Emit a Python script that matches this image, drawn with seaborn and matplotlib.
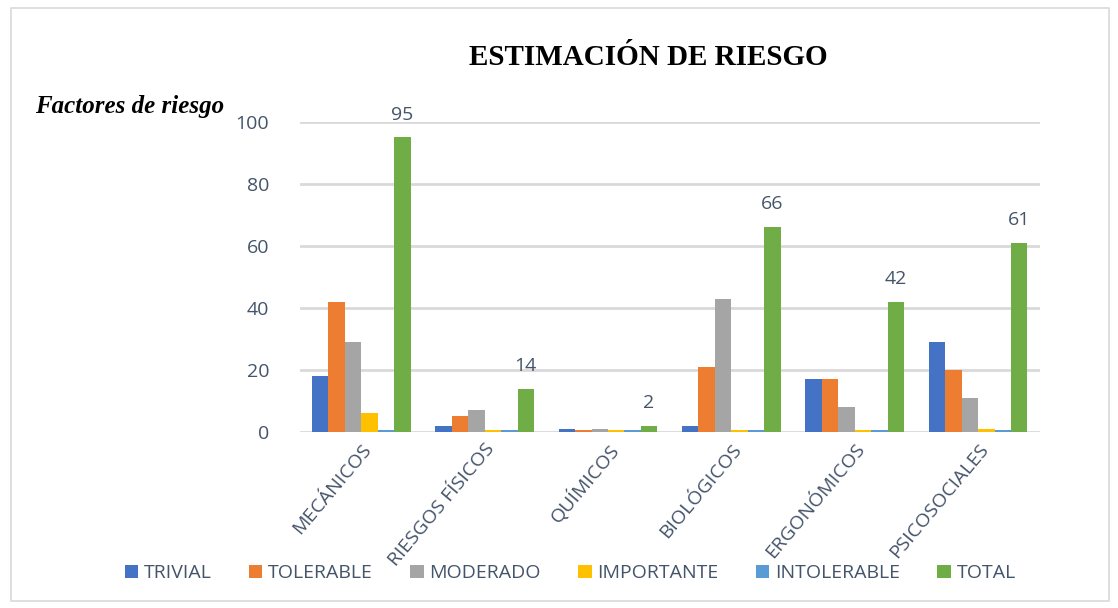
import matplotlib
matplotlib.use("Agg")
import matplotlib.pyplot as plt
import matplotlib.patches as mpatches
import seaborn as sns
import pandas as pd

categorias = ["MECÁNICOS", "RIESGOS FÍSICOS", "QUÍMICOS", "BIOLÓGICOS", "ERGONÓMICOS", "PSICOSOCIALES"]
series = ["TRIVIAL", "TOLERABLE", "MODERADO", "IMPORTANTE", "INTOLERABLE", "TOTAL"]
trivial = [18, 2, 1, 2, 17, 29]
tolerable = [42, 5, 0, 21, 17, 20]
moderado = [29, 7, 1, 43, 8, 11]
importante = [6, 0, 0, 0, 0, 1]
intolerable = [0, 0, 0, 0, 0, 0]
total = [95, 14, 2, 66, 42, 61]
colores = ["#4472C4", "#ED7D31", "#A5A5A5", "#FFC000", "#5B9BD5", "#70AD47"]

valores = [trivial, tolerable, moderado, importante, intolerable, total]
rows = []
for s, vals in zip(series, valores):
    for c, v in zip(categorias, vals):
        rows.append({"categoria": c, "serie": s, "valor": v})
df = pd.DataFrame(rows)

sns.set_theme(style="white")
plt.rcParams['font.family'] = ['Open Sans', 'DejaVu Sans']
txt = "#44546A"

fig = plt.figure(figsize=(11.18, 6.08), dpi=100)
ax = fig.add_axes([0.268, 0.2895, 0.662, 0.51])
sns.barplot(data=df, x="categoria", y="valor", hue="serie", hue_order=series,
            palette=colores, saturation=1, width=0.8, ax=ax, edgecolor="none", legend=True)

# zero bars drawn as thin slabs
for cont in ax.containers:
    for bar in cont:
        if bar.get_height() == 0:
            bar.set_height(0.6)
        bar.set_linewidth(0)

ax.set_ylim(0, 100)
ax.set_yticks([0, 20, 40, 60, 80, 100])
ax.grid(axis="y", color="#D9D9D9", linewidth=2)
ax.set_axisbelow(True)
for sp in ax.spines.values():
    sp.set_visible(False)
ax.set_xlabel("")
ax.set_ylabel("")
ax.tick_params(axis="y", labelsize=14, labelcolor=txt, pad=22, length=0)
ax.tick_params(axis="x", labelsize=14, labelcolor=txt, length=0, pad=6)
plt.setp(ax.get_xticklabels(), rotation=50, ha="right", rotation_mode="anchor")

tot = ax.containers[-1]
ax.bar_label(tot, labels=[str(v) for v in total], padding=10, fontsize=14, color=txt)

leg = ax.legend(loc="center", bbox_to_anchor=(0.51, 0.057), bbox_transform=fig.transFigure,
                ncol=6, frameon=False, fontsize=14, handlelength=0.7, handleheight=0.7,
                columnspacing=1.9, handletextpad=0.3)
for t in leg.get_texts():
    t.set_color(txt)

fig.text(0.58, 0.905, "ESTIMACIÓN DE RIESGO", ha="center", va="center",
         family="Liberation Serif", fontweight="bold", fontsize=21, color="black")
fig.text(0.031, 0.825, "Factores de riesgo", ha="left", va="center",
         family="Liberation Serif", fontweight="bold", fontstyle="italic", fontsize=18, color="black")

fig.patches.append(mpatches.Rectangle((0.01, 0.012), 0.982, 0.975, transform=fig.transFigure,
                                      fill=False, edgecolor="#D9D9D9", linewidth=1.2))

fig.savefig("out.png", dpi=100)
